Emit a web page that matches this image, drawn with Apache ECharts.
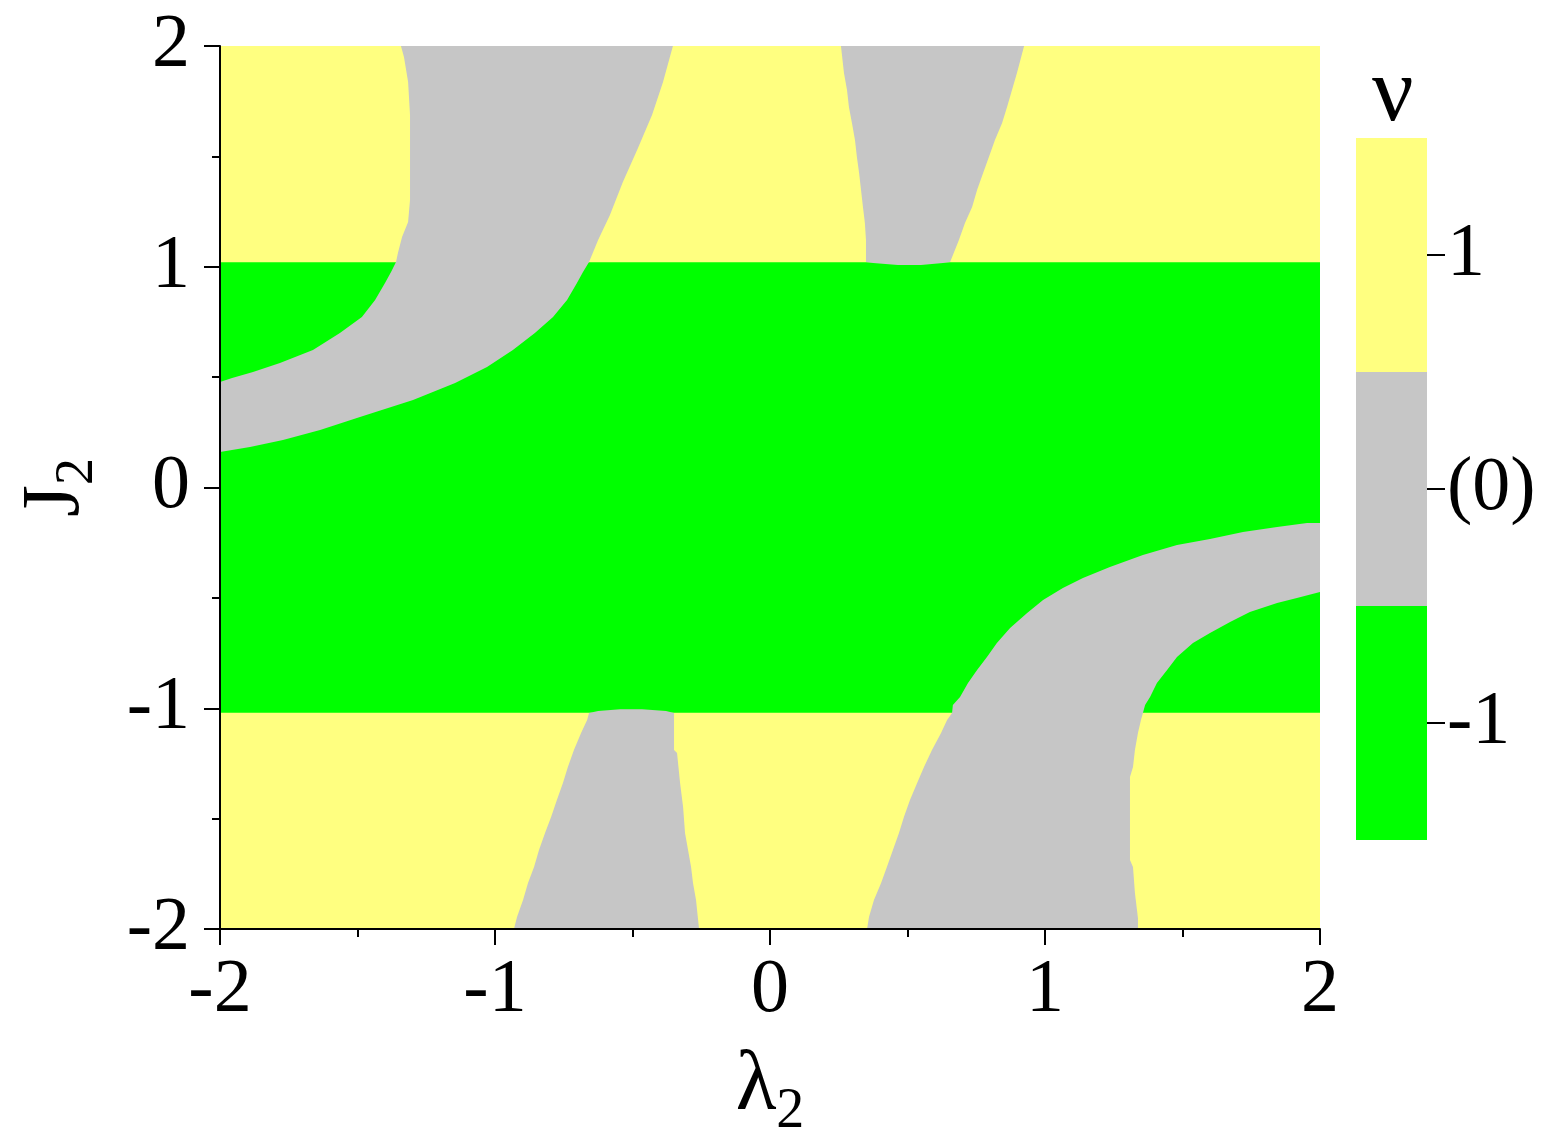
<!DOCTYPE html>
<html>
<head>
<meta charset="utf-8">
<script src="https://cdn.jsdelivr.net/npm/echarts@6/dist/echarts.min.js"></script>
<style>
html, body { margin: 0; padding: 0; background: #fff; }
#main { width: 1542px; height: 1134px; }
</style>
</head>
<body>
<div id="main"></div>
<script>
// region boundaries, [lambda2, J2]
var plotBox = [[-2, -2], [2, -2], [2, 2], [-2, 2]];
var greenBand = [[-2, -1.02], [2, -1.02], [2, 1.02], [-2, 1.02]];

var grayUpperLeft = [
    [-1.342, 2.0], [-1.331, 1.950], [-1.316, 1.837], [-1.309, 1.687], [-1.309, 1.302],
    [-1.316, 1.203], [-1.338, 1.135], [-1.353, 1.062], [-1.360, 1.022], [-1.378, 0.976],
    [-1.400, 0.926], [-1.436, 0.849], [-1.484, 0.772], [-1.564, 0.700], [-1.662, 0.623],
    [-1.782, 0.564], [-1.880, 0.523], [-1.956, 0.496], [-2.0, 0.478],
    [-2.0, 0.161], [-1.891, 0.183], [-1.771, 0.215], [-1.636, 0.260], [-1.491, 0.319],
    [-1.298, 0.396], [-1.145, 0.473], [-1.029, 0.546], [-0.935, 0.623], [-0.855, 0.700],
    [-0.789, 0.772], [-0.738, 0.849], [-0.702, 0.926], [-0.680, 0.976], [-0.658, 1.022],
    [-0.625, 1.121], [-0.582, 1.234], [-0.535, 1.384], [-0.480, 1.538], [-0.429, 1.687],
    [-0.389, 1.837], [-0.353, 2.0]
];

var grayUpperMid = [
    [0.258, 2.0], [0.269, 1.878], [0.280, 1.801], [0.287, 1.724], [0.298, 1.651],
    [0.309, 1.574], [0.316, 1.497], [0.324, 1.425], [0.331, 1.348], [0.338, 1.271],
    [0.345, 1.198], [0.349, 1.121], [0.349, 1.022],
    [0.375, 1.017], [0.465, 1.008], [0.549, 1.008], [0.629, 1.017],
    [0.655, 1.022], [0.687, 1.121], [0.709, 1.198], [0.735, 1.271], [0.753, 1.348],
    [0.775, 1.425], [0.796, 1.497], [0.818, 1.574], [0.844, 1.651], [0.862, 1.724],
    [0.880, 1.801], [0.898, 1.878], [0.924, 2.0]
];

var grayLowerMid = [
    [-0.931, -2.0], [-0.920, -1.946], [-0.898, -1.869], [-0.880, -1.792], [-0.858, -1.719],
    [-0.840, -1.642], [-0.818, -1.565], [-0.796, -1.493], [-0.775, -1.416], [-0.753, -1.339],
    [-0.735, -1.266], [-0.713, -1.189], [-0.687, -1.112], [-0.665, -1.053], [-0.658, -1.022],
    [-0.625, -1.013], [-0.545, -1.004], [-0.465, -1.004], [-0.378, -1.013],
    [-0.349, -1.022], [-0.349, -1.189], [-0.338, -1.203], [-0.327, -1.339], [-0.316, -1.447],
    [-0.309, -1.565], [-0.298, -1.642], [-0.287, -1.719], [-0.280, -1.792], [-0.269, -1.869],
    [-0.258, -2.0]
];

var grayLowerRight = [
    [0.353, -2.0], [0.360, -1.946], [0.378, -1.869], [0.404, -1.792], [0.425, -1.719],
    [0.447, -1.642], [0.469, -1.565], [0.487, -1.493], [0.509, -1.416], [0.535, -1.339],
    [0.560, -1.266], [0.589, -1.189], [0.622, -1.112], [0.644, -1.053], [0.662, -1.022],
    [0.665, -0.985], [0.691, -0.949], [0.720, -0.886], [0.753, -0.827], [0.789, -0.768],
    [0.825, -0.704], [0.873, -0.636], [0.935, -0.569], [0.993, -0.510], [1.065, -0.455],
    [1.138, -0.410], [1.236, -0.360], [1.356, -0.306], [1.480, -0.260], [1.600, -0.233],
    [1.720, -0.202], [1.844, -0.179], [1.953, -0.161], [2.0, -0.161],
    [2.0, -0.473], [1.916, -0.501], [1.844, -0.523], [1.745, -0.564], [1.673, -0.609],
    [1.600, -0.659], [1.538, -0.704], [1.480, -0.768], [1.444, -0.827], [1.407, -0.886],
    [1.382, -0.949], [1.364, -0.985], [1.356, -1.022],
    [1.349, -1.053], [1.338, -1.112], [1.327, -1.189], [1.320, -1.266], [1.309, -1.311],
    [1.309, -1.687], [1.320, -1.719], [1.327, -1.837], [1.338, -1.950], [1.338, -2.0]
];

var nuLabels = ['-1', '(0)', '1'];
var nuColors = ['#00ff00', '#c6c6c6', '#ffff80'];

var FONT = '"Liberation Serif", "Times New Roman", serif';

var dom = document.getElementById("main");
var myChart = echarts.init(dom, null, {renderer: 'canvas'});

function region(points, color) {
    return {
        type: 'custom',
        xAxisIndex: 0,
        yAxisIndex: 0,
        data: points,
        silent: true,
        animation: false,
        renderItem: function (params, api) {
            if (params.dataIndex !== 0) return null;
            var pts = points.map(function (p) { return api.coord(p); });
            return {
                type: 'polygon',
                shape: {points: pts},
                style: {fill: color}
            };
        }
    };
}

var option = {
    backgroundColor: '#fff',
    animation: false,
    grid: [
        {left: 220, top: 46, width: 1100, height: 883, containLabel: false, outerBoundsMode: 'none'},
        {left: 1356, top: 138, width: 71, height: 702, containLabel: false, outerBoundsMode: 'none'}
    ],
    xAxis: [
        {
            gridIndex: 0, type: 'value', min: -2, max: 2, interval: 1, z: 10,
            splitLine: {show: false},
            axisLine: {onZero: false, lineStyle: {color: '#000', width: 2}},
            axisTick: {length: 16, lineStyle: {color: '#000', width: 2}},
            minorTick: {show: true, splitNumber: 2, length: 8, lineStyle: {color: '#000', width: 2}},
            axisLabel: {color: '#000', fontFamily: FONT, fontSize: 76, margin: 24},
            name: '{a|λ}{b|2}',
            nameLocation: 'middle',
            nameGap: 105,
            nameMoveOverlap: false,
            nameTextStyle: {
                color: '#000', fontFamily: FONT,
                rich: {
                    a: {fontSize: 84, fontFamily: FONT, color: '#000'},
                    b: {fontSize: 56, fontFamily: FONT, color: '#000', padding: [50, 0, 0, 0]}
                }
            }
        },
        {gridIndex: 1, type: 'value', min: 0, max: 1, show: false}
    ],
    yAxis: [
        {
            gridIndex: 0, type: 'value', min: -2, max: 2, interval: 1, z: 10,
            splitLine: {show: false},
            axisLine: {onZero: false, lineStyle: {color: '#000', width: 2}},
            axisTick: {length: 16, lineStyle: {color: '#000', width: 2}},
            minorTick: {show: true, splitNumber: 2, length: 8, lineStyle: {color: '#000', width: 2}},
            axisLabel: {color: '#000', fontFamily: FONT, fontSize: 76, margin: 30},
            name: '{a|J}{b|2}',
            nameLocation: 'middle',
            nameRotate: 90,
            nameGap: 115,
            nameMoveOverlap: false,
            nameTextStyle: {
                color: '#000', fontFamily: FONT,
                rich: {
                    a: {fontSize: 82, fontFamily: FONT, color: '#000'},
                    b: {fontSize: 54, fontFamily: FONT, color: '#000', padding: [44, 0, 0, 0]}
                }
            }
        },
        {
            gridIndex: 1, type: 'category', data: nuLabels, position: 'right', z: 10,
            axisLine: {show: true, onZero: false, lineStyle: {color: 'rgba(0,0,0,0)'}},
            axisTick: {show: true, inside: false, alignWithLabel: true, length: 18, lineStyle: {color: '#000', width: 2}},
            axisLabel: {color: '#000', fontFamily: FONT, fontSize: 76, margin: 20},
            splitLine: {show: false}
        }
    ],
    graphic: [
        {
            type: 'text', left: 1372, top: 50,
            style: {text: 'ν', font: '92px ' + FONT, fill: '#000'}
        }
    ],
    series: [
        region(plotBox, '#ffff80'),
        region(greenBand, '#00ff00'),
        region(grayUpperLeft, '#c6c6c6'),
        region(grayUpperMid, '#c6c6c6'),
        region(grayLowerMid, '#c6c6c6'),
        region(grayLowerRight, '#c6c6c6'),
        {
            type: 'bar',
            xAxisIndex: 1,
            yAxisIndex: 1,
            barCategoryGap: '0%',
            silent: true,
            data: nuColors.map(function (c) { return {value: 1, itemStyle: {color: c}}; })
        }
    ]
};
myChart.setOption(option);
</script>
</body>
</html>
